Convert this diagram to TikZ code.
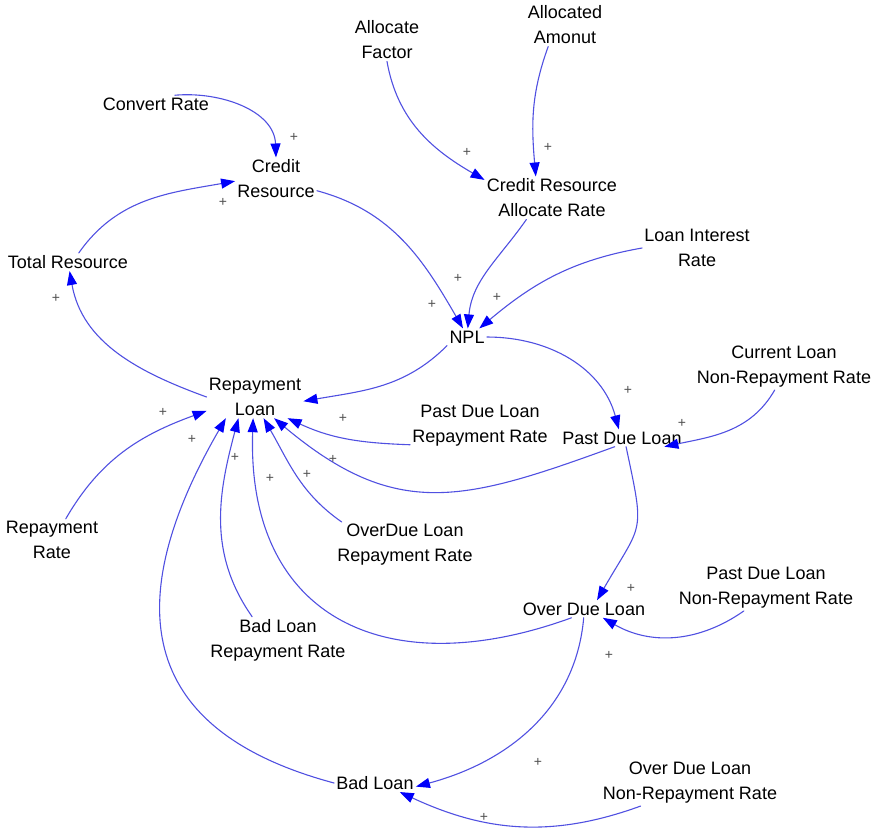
\documentclass[tikz,border=0pt]{standalone}
\usepackage{fontspec}
\setmainfont{Liberation Sans}
\usetikzlibrary{arrows.meta}
\definecolor{lnkblue}{RGB}{80,80,225}
\definecolor{tipblue}{RGB}{0,0,250}
\definecolor{plsgray}{RGB}{80,80,80}

\begin{document}
\begin{tikzpicture}[line cap=round,line join=round,x=0.5pt,y=0.5pt,
    vbl/.style={font=\fontsize{9}{12.5}\selectfont,align=center,inner sep=1pt},
    lnk/.style={draw=lnkblue,line width=0.55pt,-{Triangle[length=7pt,width=5pt,color=tipblue]}},
    pls/.style={font=\fontsize{7}{7}\selectfont,text=plsgray,inner sep=0pt}]
		\useasboundingbox (0,0) rectangle (876,-831);
		%%%%%%%%%%%%%%%%%%%%% V A R I A B L E S %%%%%%%%%%%%%%%%%%%%%
		\node[vbl] (af) at (387,-40) {Allocate\\Factor};
		\node[vbl] (aa) at (565,-25) {Allocated\\Amonut};
		\node[vbl] (cvr) at (156,-104) {Convert Rate};
		\node[vbl] (crs) at (276,-179) {Credit\\Resource};
		\node[vbl] (cra) at (552,-198) {Credit Resource\\Allocate Rate};
		\node[vbl] (lir) at (697,-248) {Loan Interest\\Rate};
		\node[vbl] (tr) at (68,-262) {Total Resource};
		\node[vbl] (npl) at (467,-337) {NPL};
		\node[vbl] (rl) at (255,-397) {Repayment\\Loan};
		\node[vbl] (cln) at (784,-367) {Current Loan\\Non-Repayment Rate};
		\node[vbl] (pdr) at (480,-426) {Past Due Loan\\Repayment Rate};
		\node[vbl] (pdl) at (622,-438) {Past Due Loan};
		\node[vbl] (odr) at (405,-545) {OverDue Loan\\Repayment Rate};
		\node[vbl] (rr) at (52,-540) {Repayment\\Rate};
		\node[vbl] (pdn) at (766,-588) {Past Due Loan\\Non-Repayment Rate};
		\node[vbl] (odl) at (584,-609) {Over Due Loan};
		\node[vbl] (blr) at (278,-640) {Bad Loan\\Repayment Rate};
		\node[vbl] (bl) at (375,-783) {Bad Loan};
		\node[vbl] (odn) at (690,-783) {Over Due Loan\\Non-Repayment Rate};

		%%%% CREDIT RESOURCE
		\draw[lnk] (cvr.25) to[out=5,in=92] (crs.north);
		\draw[lnk] (tr.40) to[out=55,in=190] (crs.183);
		%%%% ALLOCATE RATE
		\draw[lnk] (af.south) to[out=-80,in=150] (cra.165);
		\draw[lnk] (aa.-128) to[out=-110,in=95] (cra.127);
		%%%% NPL
		\draw[lnk] (crs.-16) to[out=-15,in=120] (npl.115);
		\draw[lnk] (cra.-140) to[out=-125,in=85] (npl.85);
		\draw[lnk] (lir.west) to[out=190,in=40] (npl.35);
		%%%% LOANS
		\draw[lnk] (npl.east) to[out=0,in=105] (pdl.110);
		\draw[lnk] (cln.-112) to[out=-120,in=12] ([xshift=5pt]pdl.-15);
		\draw[lnk] (pdl.-65) to[out=-78,in=60,looseness=1.5] (odl.34);
		\draw[lnk] (pdn.-134) to[out=-145,in=-30] (odl.-25);
		\draw[lnk] (odl.-92) to[out=-95,in=15] (bl.-5);
		\draw[lnk] (odn.-155) to[out=-160,in=-25] (bl.-20);
		%%%% REPAYMENT LOAN
		\draw[lnk] (npl.south west) to[out=-135,in=10] (rl.-5);
		\draw[lnk] (pdr.195) to[out=178,in=-25] (rl.-33);
		\draw[lnk] (pdl.-130) to[out=-160,in=-40,looseness=1.2] (rl.-48);
		\draw[lnk] (odr.160) to[out=145,in=-60] (rl.-68);
		\draw[lnk] (odl.-145) to[out=-160,in=-92,looseness=1.35] (rl.-95);
		\draw[lnk] (blr.138) to[out=125,in=-105] (rl.-128);
		\draw[lnk] (bl.west) to[out=165,in=-120,looseness=1.4] (rl.-144);
		\draw[lnk] (rr.57) to[out=60,in=200] (rl.196);
		\draw[lnk] (rl.west) to[out=160,in=-80] (tr.-80);

		%%%% SIGNOS
		\node[pls] (p1) at (294,-137) {+};
		\node[pls] (p2) at (223,-202) {+};
		\node[pls] (p3) at (467,-152) {+};
		\node[pls] (p4) at (548,-147) {+};
		\node[pls] (p5) at (432,-304) {+};
		\node[pls] (p6) at (458,-278) {+};
		\node[pls] (p7) at (497,-297) {+};
		\node[pls] (p8) at (56,-298) {+};
		\node[pls] (p9) at (628,-390) {+};
		\node[pls] (p10) at (682,-423) {+};
		\node[pls] (p11) at (163,-412) {+};
		\node[pls] (p12) at (192,-439) {+};
		\node[pls] (p13) at (235,-457) {+};
		\node[pls] (p14) at (270,-478) {+};
		\node[pls] (p15) at (307,-474) {+};
		\node[pls] (p16) at (333,-459) {+};
		\node[pls] (p17) at (343,-418) {+};
		\node[pls] (p18) at (631,-588) {+};
		\node[pls] (p19) at (609,-655) {+};
		\node[pls] (p20) at (538,-762) {+};
		\node[pls] (p21) at (484,-817) {+};
	\end{tikzpicture}
\end{document}
